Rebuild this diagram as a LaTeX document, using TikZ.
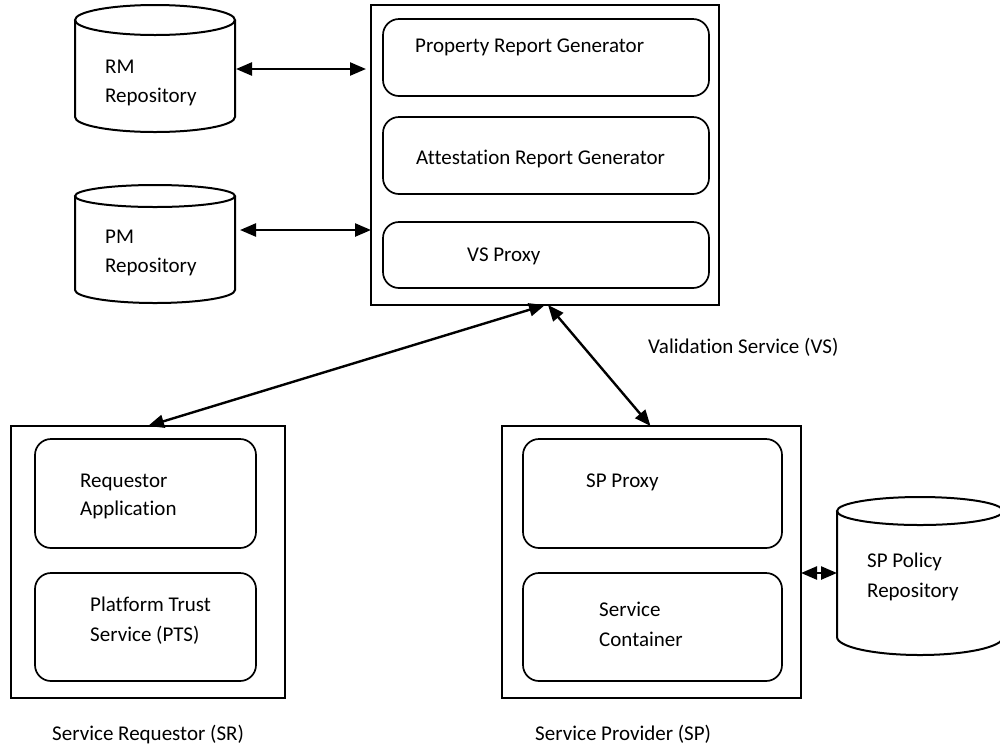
\documentclass[tikz,border=0pt]{standalone}
\usepackage{fontspec}
\setmainfont{Carlito}[Ligatures=NoCommon]
\usetikzlibrary{arrows.meta}
\begin{document}
\begin{tikzpicture}[x=1pt,y=-1pt,
  every node/.style={font=\fontsize{21}{25}\selectfont},
  frame/.style={draw, line width=2pt, anchor=north west, inner sep=0pt, outer sep=0pt},
  panel/.style={draw, line width=1.7pt, rounded corners=16pt, anchor=north west, inner sep=0pt, outer sep=0pt},
  txt/.style={anchor=base west, inner sep=0pt},
  link/.style={line width=2.4pt, {Triangle[length=16pt,width=13pt]}-{Triangle[length=16pt,width=13pt]}},
  drum/.style={line width=2pt}]
\useasboundingbox (0,0) rectangle (1000,748);

% ---------- Validation Service ----------
\node[frame, minimum width=348pt, minimum height=300pt] (vs) at (371,5) {};
\node[panel, minimum width=326pt, minimum height=77pt] (prg) at (383,19) {};
\node[panel, minimum width=326pt, minimum height=77pt] (arg) at (383,117) {};
\node[panel, minimum width=326pt, minimum height=66pt] (vsp) at (383,222) {};
\node[txt] (prg-t) at (415,52) {Property Report Generator};
\node[txt] (arg-t) at (416,164) {Attestation Report Generator};
\node[txt] (vsp-t) at (467,261) {VS Proxy};
\node[txt] (vs-t) at (648,353) {Validation Service (VS)};

% ---------- Service Requestor ----------
\node[frame, minimum width=274pt, minimum height=272pt] (sr) at (11,426) {};
\node[panel, minimum width=221pt, minimum height=109pt] (ra) at (35,439) {};
\node[panel, minimum width=221pt, minimum height=108pt] (pts) at (35,573) {};
\node[txt] (ra-t1) at (80,487) {Requestor};
\node[txt] (ra-t2) at (80,515) {Application};
\node[txt] (pts-t1) at (90,611) {Platform Trust};
\node[txt] (pts-t2) at (90,641) {Service (PTS)};
\node[txt] (sr-t) at (52,740) {Service Requestor (SR)};

% ---------- Service Provider ----------
\node[frame, minimum width=299pt, minimum height=272pt] (sp) at (502,426) {};
\node[panel, minimum width=259pt, minimum height=109pt] (spp) at (523,439) {};
\node[panel, minimum width=259pt, minimum height=108pt] (sc) at (523,573) {};
\node[txt] (spp-t) at (586,487) {SP Proxy};
\node[txt] (sc-t1) at (599,616) {Service};
\node[txt] (sc-t2) at (599,646) {Container};
\node[txt] (sp-t) at (535,740) {Service Provider (SP)};

% ---------- Repositories ----------
% RM
\draw[drum] (75,20) -- (75,117) arc[start angle=180, end angle=360, x radius=80pt, y radius=15pt] -- (235,20);
\draw[drum] (155,20) ellipse [x radius=80pt, y radius=15pt];
\node[txt] (rm-t1) at (105,73) {RM};
\node[txt] (rm-t2) at (105,102) {Repository};
% PM
\draw[drum] (75,196) -- (75,290) arc[start angle=180, end angle=360, x radius=80pt, y radius=13pt] -- (235,196);
\draw[drum] (155,196) ellipse [x radius=80pt, y radius=11pt];
\node[txt] (pm-t1) at (105,243) {PM};
\node[txt] (pm-t2) at (105,272) {Repository};
% SP policy
\draw[drum] (837,511) -- (837,637) arc[start angle=180, end angle=360, x radius=83pt, y radius=18pt] -- (1003,511);
\draw[drum] (920,511) ellipse [x radius=83pt, y radius=14pt];
\node[txt] (spr-t1) at (867,567) {SP Policy};
\node[txt] (spr-t2) at (867,597) {Repository};

% ---------- Ports ----------
\coordinate (rm-port) at (236,69);
\coordinate (vs-rm) at (366,69);
\coordinate (pm-port) at (240,230);
\coordinate (vs-pm) at (371,230);
\coordinate (spr-port) at (837,573);
\coordinate (sp-spr) at (801,573);

% ---------- Connectors ----------
\draw[link] (rm-port) -- (vs-rm);
\draw[link] (pm-port) -- (vs-pm);
\draw[link] (sr.north) -- (vs.south);
\draw[link] ([xshift=3pt]vs.south) -- ([xshift=-1pt]sp.north);
\draw[link] (sp-spr) -- (spr-port);
\end{tikzpicture}
\end{document}
